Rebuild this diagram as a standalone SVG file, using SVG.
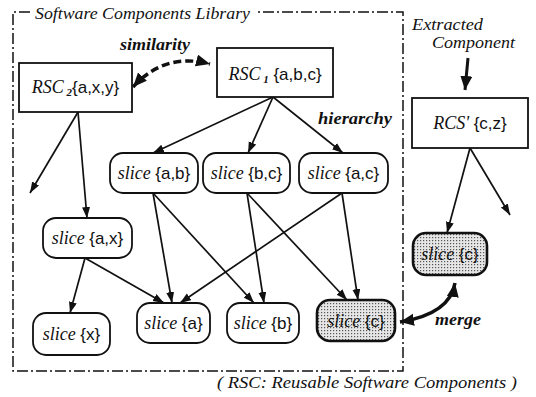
<svg xmlns="http://www.w3.org/2000/svg" width="536" height="397" viewBox="0 0 536 397">
<defs>
<marker id="ah" markerUnits="userSpaceOnUse" markerWidth="12" markerHeight="10" refX="11" refY="4" orient="auto">
<path d="M0,0 L11,4 L0,8 Z" fill="#111"/>
</marker>
<marker id="ahb" markerUnits="userSpaceOnUse" markerWidth="16" markerHeight="14" refX="14" refY="6" orient="auto-start-reverse">
<path d="M0,0 L14,6 L0,12 Z" fill="#111"/>
</marker>
<pattern id="dots" width="3" height="3" patternUnits="userSpaceOnUse">
<rect width="3" height="3" fill="#e6e6e6"/>
<rect x="0" y="0" width="1.2" height="1.2" fill="#555"/>
</pattern>
<style>
.box{fill:#fff;stroke:#111;stroke-width:1.8}
.sh{fill:url(#dots);stroke:#111;stroke-width:2.6}
.ln{fill:none;stroke:#111;stroke-width:1.7;marker-end:url(#ah)}
.it{font-family:"Liberation Serif",serif;font-style:italic;font-size:18px;fill:#111}
.sf{font-family:"Liberation Sans",Arial,sans-serif;font-size:17px;font-style:normal;fill:#111}
.sub{font-family:"Liberation Serif",serif;font-style:italic;font-weight:bold;font-size:11px}
.lbl{font-family:"Liberation Serif",serif;font-style:italic;font-weight:bold;font-size:16px;fill:#111}
.cap{font-family:"Liberation Serif",serif;font-style:italic;font-size:17px;fill:#111}
.frame{fill:none;stroke:#111;stroke-width:1.5;stroke-dasharray:11 3 2 3}
</style>
</defs>
<rect width="536" height="397" fill="#fff"/>
<g id="frame">
<path class="frame" d="M30,12 L13,12 L13,371 L403,371 L403,12 L256,12"/>
<text class="cap" x="35" y="19" textLength="215" lengthAdjust="spacingAndGlyphs">Software Components Library</text>
</g>
<g id="connectors">
<path class="ln" d="M78,112 L30,193"/>
<path class="ln" d="M78,112 L87,218"/>
<path class="ln" d="M273,97 L153,153"/>
<path class="ln" d="M273,97 L248,153"/>
<path class="ln" d="M273,97 L343,153"/>
<path class="ln" d="M153,193 L172,303"/>
<path class="ln" d="M153,193 L254,303"/>
<path class="ln" d="M247,193 L264,303"/>
<path class="ln" d="M247,193 L347,300"/>
<path class="ln" d="M342,193 L180,303"/>
<path class="ln" d="M342,193 L358,300"/>
<path class="ln" d="M85,258 L70,313"/>
<path class="ln" d="M85,258 L164,303"/>
<path class="ln" d="M470,148 L447,233"/>
<path class="ln" d="M470,148 L510,215"/>
<path d="M468,58 L465,90" fill="none" stroke="#111" stroke-width="3" marker-end="url(#ahb)"/>
<path d="M133,87 Q165,52 210,64" fill="none" stroke="#111" stroke-width="3.5" stroke-dasharray="8 4" marker-start="url(#ahb)" marker-end="url(#ahb)"/>
<path d="M400,322 Q450,314 455,283" fill="none" stroke="#111" stroke-width="3.5" marker-start="url(#ahb)" marker-end="url(#ahb)"/>
</g>
<g id="labels">
<text class="lbl" x="120" y="50" textLength="70" lengthAdjust="spacingAndGlyphs">similarity</text>
<text class="lbl" x="318" y="124" textLength="74" lengthAdjust="spacingAndGlyphs">hierarchy</text>
<text class="lbl" x="435" y="325" textLength="46" lengthAdjust="spacingAndGlyphs">merge</text>
<text class="cap" x="412" y="30" textLength="71" lengthAdjust="spacingAndGlyphs">Extracted</text>
<text class="cap" x="432" y="48" textLength="83" lengthAdjust="spacingAndGlyphs">Component</text>
<text class="cap" x="217" y="388" textLength="300" lengthAdjust="spacingAndGlyphs">( RSC: Reusable Software Components )</text>
</g>
<g id="rsc2">
<rect class="box" x="19" y="63" width="113" height="49"/>
<text class="it" x="75.5" y="93" text-anchor="middle">RSC<tspan class="sub" dy="3"> 2</tspan><tspan class="sf" dy="-3">{a,x,y}</tspan></text>
</g>
<g id="rsc1">
<rect class="box" x="217" y="48" width="116" height="49"/>
<text class="it" x="275" y="80" text-anchor="middle">RSC<tspan class="sub" dy="3"> 1</tspan><tspan class="sf" dy="-3"> {a,b,c}</tspan></text>
</g>
<g id="rcs">
<rect class="box" x="412" y="98" width="116" height="50"/>
<text class="it" x="470" y="129" text-anchor="middle">RCS' <tspan class="sf">{c,z}</tspan></text>
</g>
<g id="slice-ab">
<rect class="box" x="110" y="153" width="88" height="40" rx="13"/>
<text class="it" x="154" y="179" text-anchor="middle">slice <tspan class="sf">{a,b}</tspan></text>
</g>
<g id="slice-bc">
<rect class="box" x="203" y="153" width="87" height="40" rx="13"/>
<text class="it" x="246.5" y="179" text-anchor="middle">slice <tspan class="sf">{b,c}</tspan></text>
</g>
<g id="slice-ac">
<rect class="box" x="299" y="153" width="89" height="40" rx="13"/>
<text class="it" x="343.5" y="179" text-anchor="middle">slice <tspan class="sf">{a,c}</tspan></text>
</g>
<g id="slice-ax">
<rect class="box" x="43" y="218" width="89" height="40" rx="13"/>
<text class="it" x="87.5" y="244" text-anchor="middle">slice <tspan class="sf">{a,x}</tspan></text>
</g>
<g id="slice-x">
<rect class="box" x="33" y="313" width="77" height="42" rx="13"/>
<text class="it" x="71.5" y="340" text-anchor="middle">slice <tspan class="sf">{x}</tspan></text>
</g>
<g id="slice-a">
<rect class="box" x="137" y="303" width="73" height="40" rx="13"/>
<text class="it" x="173.5" y="329" text-anchor="middle">slice <tspan class="sf">{a}</tspan></text>
</g>
<g id="slice-b">
<rect class="box" x="227" y="303" width="72" height="40" rx="13"/>
<text class="it" x="263" y="329" text-anchor="middle">slice <tspan class="sf">{b}</tspan></text>
</g>
<g id="slice-c">
<rect class="sh" x="317" y="300" width="78" height="41" rx="13"/>
<text class="it" x="356" y="327" text-anchor="middle">slice <tspan class="sf">{c}</tspan></text>
</g>
<g id="slice-c2">
<rect class="sh" x="413" y="233" width="74" height="42" rx="13"/>
<text class="it" x="450" y="260" text-anchor="middle">slice <tspan class="sf">{c}</tspan></text>
</g>
</svg>
